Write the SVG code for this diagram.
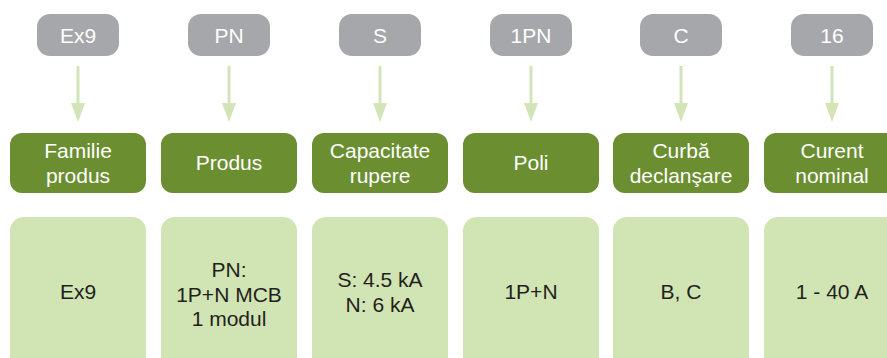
<svg xmlns="http://www.w3.org/2000/svg" width="887" height="358" viewBox="0 0 887 358">
<defs>
<style>
.code{fill:#a6a7aa}
.head{fill:#6a8e30}
.val{fill:#d1e4b3}
.ct{font-family:"Liberation Sans",Arial,sans-serif;font-size:21px;fill:#ffffff;text-anchor:middle}
.ht{font-family:"Liberation Sans",Arial,sans-serif;font-size:21px;fill:#ffffff;text-anchor:middle}
.vt{font-family:"Liberation Sans",Arial,sans-serif;font-size:21px;fill:#231f20;text-anchor:middle}
.ln{stroke:#d3e5b8;stroke-width:3;fill:none}
.ah{fill:#d3e5b8}
</style>
</defs>
<rect width="887" height="358" fill="#ffffff"/>
<g id="connectors">
<line class="ln" x1="78" y1="66" x2="78" y2="105"/><polygon class="ah" points="71,103 85,103 78,122"/>
<line class="ln" x1="229" y1="66" x2="229" y2="105"/><polygon class="ah" points="222,103 236,103 229,122"/>
<line class="ln" x1="380" y1="66" x2="380" y2="105"/><polygon class="ah" points="373,103 387,103 380,122"/>
<line class="ln" x1="531" y1="66" x2="531" y2="105"/><polygon class="ah" points="524,103 538,103 531,122"/>
<line class="ln" x1="681" y1="66" x2="681" y2="105"/><polygon class="ah" points="674,103 688,103 681,122"/>
<line class="ln" x1="832" y1="66" x2="832" y2="105"/><polygon class="ah" points="825,103 839,103 832,122"/>
</g>
<g id="code-ex9"><rect class="code" x="37" y="14" width="82" height="42" rx="13"/><text class="ct" x="78" y="43">Ex9</text></g>
<g id="code-pn"><rect class="code" x="188" y="14" width="82" height="42" rx="13"/><text class="ct" x="229" y="43">PN</text></g>
<g id="code-s"><rect class="code" x="339" y="14" width="82" height="42" rx="13"/><text class="ct" x="380" y="43">S</text></g>
<g id="code-1pn"><rect class="code" x="490" y="14" width="82" height="42" rx="13"/><text class="ct" x="531" y="43">1PN</text></g>
<g id="code-c"><rect class="code" x="640" y="14" width="82" height="42" rx="13"/><text class="ct" x="681" y="43">C</text></g>
<g id="code-16"><rect class="code" x="791" y="14" width="82" height="42" rx="13"/><text class="ct" x="832" y="43">16</text></g>

<g id="head-familie"><rect class="head" x="10" y="133" width="136" height="60" rx="12"/><text class="ht" x="78" y="158">Familie</text><text class="ht" x="78" y="183">produs</text></g>
<g id="head-produs"><rect class="head" x="161" y="133" width="136" height="60" rx="12"/><text class="ht" x="229" y="170">Produs</text></g>
<g id="head-capacitate"><rect class="head" x="312" y="133" width="136" height="60" rx="12"/><text class="ht" x="380" y="158">Capacitate</text><text class="ht" x="380" y="183">rupere</text></g>
<g id="head-poli"><rect class="head" x="463" y="133" width="136" height="60" rx="12"/><text class="ht" x="531" y="170">Poli</text></g>
<g id="head-curba"><rect class="head" x="613" y="133" width="136" height="60" rx="12"/><text class="ht" x="681" y="158">Curbă</text><text class="ht" x="681" y="183">declanşare</text></g>
<g id="head-curent"><rect class="head" x="764" y="133" width="136" height="60" rx="12"/><text class="ht" x="832" y="158">Curent</text><text class="ht" x="832" y="183">nominal</text></g>

<g id="val-ex9"><rect class="val" x="10" y="217" width="136" height="160" rx="14"/><text class="vt" x="78" y="299">Ex9</text></g>
<g id="val-pn"><rect class="val" x="161" y="217" width="136" height="160" rx="14"/><text class="vt" x="229" y="277">PN:</text><text class="vt" x="229" y="302">1P+N MCB</text><text class="vt" x="229" y="326">1 modul</text></g>
<g id="val-s"><rect class="val" x="312" y="217" width="136" height="160" rx="14"/><text class="vt" x="380" y="287">S: 4.5 kA</text><text class="vt" x="380" y="312">N: 6 kA</text></g>
<g id="val-1pn"><rect class="val" x="463" y="217" width="136" height="160" rx="14"/><text class="vt" x="531" y="299">1P+N</text></g>
<g id="val-c"><rect class="val" x="613" y="217" width="136" height="160" rx="14"/><text class="vt" x="681" y="299">B, C</text></g>
<g id="val-16"><rect class="val" x="764" y="217" width="136" height="160" rx="14"/><text class="vt" x="832" y="299">1 - 40 A</text></g>
</svg>
